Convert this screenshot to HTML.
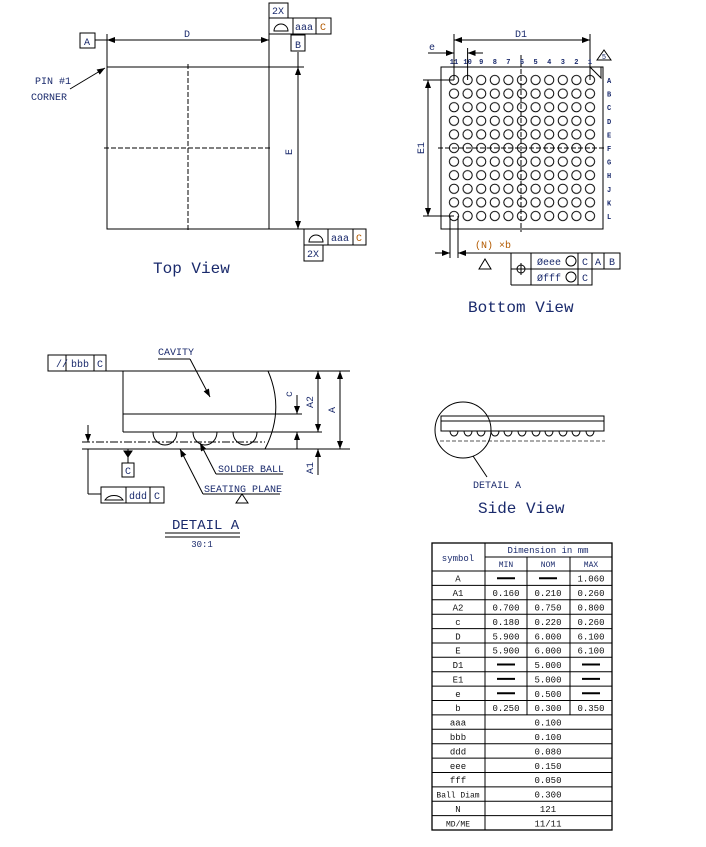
<!DOCTYPE html>
<html><head><meta charset="utf-8"><style>
html,body{margin:0;padding:0;background:#fff;}
svg{display:block;}
text{font-family:"Liberation Mono","DejaVu Sans Mono",monospace;fill:#1a2a6c;}
.o{fill:#b35a00;}
.t text{fill:#111;text-anchor:middle;}
</style></head><body>
<svg width="706" height="847" viewBox="0 0 706 847" xmlns="http://www.w3.org/2000/svg">
<defs>
<marker id="ar" markerWidth="8" markerHeight="6" refX="8" refY="3" orient="auto-start-reverse" markerUnits="userSpaceOnUse"><path d="M0,0 L8,3 L0,6 z" fill="#000"/></marker>
<pattern id="bp" patternUnits="userSpaceOnUse" x="447.2" y="73.2" width="13.6" height="13.6"><circle cx="6.8" cy="6.8" r="4.6" fill="none" stroke="#000" stroke-width="1"/></pattern>
</defs>
<g stroke="#000" fill="none" stroke-width="1">
<!-- TOP VIEW -->
<rect x="107" y="67" width="162" height="162"/>
<line x1="188" y1="64" x2="188" y2="232" stroke-dasharray="5,2"/>
<line x1="104" y1="148" x2="272" y2="148" stroke-dasharray="5,2"/>
<line x1="107" y1="34" x2="107" y2="67"/>
<line x1="269" y1="34" x2="269" y2="67"/>
<line x1="107" y1="40" x2="269" y2="40" marker-start="url(#ar)" marker-end="url(#ar)"/>
<line x1="95" y1="40" x2="107" y2="40"/>
<rect x="80" y="33" width="15" height="15"/>
<line x1="269" y1="67" x2="304" y2="67"/>
<line x1="269" y1="229" x2="304" y2="229"/>
<line x1="298" y1="52" x2="298" y2="67"/>
<line x1="298" y1="67" x2="298" y2="229" marker-start="url(#ar)" marker-end="url(#ar)"/>
<rect x="269" y="3" width="19" height="15"/>
<rect x="269" y="18" width="62" height="16"/>
<line x1="293" y1="18" x2="293" y2="34"/><line x1="316" y1="18" x2="316" y2="34"/>
<path d="M274,31 A7,7 0 0 1 288,31 Z"/>
<rect x="291" y="35" width="14" height="16"/>
<line x1="70" y1="89" x2="105" y2="68" marker-end="url(#ar)"/>
<rect x="304" y="229" width="62" height="16"/>
<line x1="328" y1="229" x2="328" y2="245"/><line x1="353" y1="229" x2="353" y2="245"/>
<path d="M309,242 A7,7 0 0 1 323,242 Z"/>
<rect x="304" y="245" width="19" height="16"/>
<!-- BOTTOM VIEW -->
<rect x="441" y="67" width="162" height="162"/>
<rect x="447.2" y="73.2" width="149.6" height="149.6" fill="url(#bp)" stroke="none"/>
<line x1="521" y1="55" x2="521" y2="232" stroke-dasharray="5,2"/>
<line x1="438" y1="148" x2="606" y2="148" stroke-dasharray="5,2"/>
<line x1="454" y1="34" x2="454" y2="80"/>
<line x1="590" y1="34" x2="590" y2="80"/>
<line x1="454" y1="40" x2="590" y2="40" marker-start="url(#ar)" marker-end="url(#ar)"/>
<line x1="467.6" y1="48" x2="467.6" y2="80"/>
<line x1="428" y1="53" x2="454" y2="53" marker-end="url(#ar)"/>
<line x1="467.6" y1="53" x2="483" y2="53" marker-start="url(#ar)"/>
<line x1="423" y1="80" x2="454" y2="80"/>
<line x1="423" y1="216" x2="454" y2="216"/>
<line x1="428" y1="80" x2="428" y2="216" marker-start="url(#ar)" marker-end="url(#ar)"/>
<path d="M590,67 L601,67 L601,78 Z"/>
<path d="M597,60 L604,50 L611,60 Z"/>
<line x1="450" y1="216" x2="450" y2="258"/>
<line x1="458" y1="216" x2="458" y2="258"/>
<line x1="435" y1="253" x2="450" y2="253" marker-end="url(#ar)"/>
<line x1="458" y1="253" x2="511" y2="253" marker-start="url(#ar)"/>
<path d="M479,269 L485,259 L491,269 Z"/>
<rect x="511" y="253" width="109" height="16"/>
<rect x="531" y="269" width="61" height="16"/>
<line x1="511" y1="269" x2="511" y2="285"/><line x1="511" y1="285" x2="531" y2="285"/>
<line x1="531" y1="253" x2="531" y2="269"/><line x1="578" y1="253" x2="578" y2="285"/>
<line x1="592" y1="253" x2="592" y2="269"/><line x1="604" y1="253" x2="604" y2="269"/>
<circle cx="521" cy="269" r="4"/><line x1="515" y1="269" x2="527" y2="269"/><line x1="521" y1="263" x2="521" y2="275"/>
<circle cx="571" cy="261" r="5"/><circle cx="571" cy="277" r="5"/>
<!-- DETAIL A -->
<rect x="48" y="355" width="58" height="16"/>
<line x1="66" y1="355" x2="66" y2="371"/><line x1="94" y1="355" x2="94" y2="371"/>
<line x1="106" y1="371" x2="350" y2="371"/>
<line x1="123" y1="371" x2="123" y2="432"/>
<line x1="123" y1="414" x2="302" y2="414"/>
<line x1="123" y1="432" x2="322" y2="432"/>
<path d="M268,371 Q285,410 265,449"/>
<line x1="82" y1="442" x2="265" y2="442" stroke-dasharray="8,2,2,2"/>
<line x1="82" y1="449" x2="350" y2="449"/>
<path d="M153,432 A12,13 0 0 0 177,432"/>
<path d="M193,432 A12,13 0 0 0 217,432"/>
<path d="M233,432 A12,13 0 0 0 257,432"/>
<line x1="297" y1="395" x2="297" y2="414" marker-end="url(#ar)"/>
<line x1="297" y1="432" x2="297" y2="449" marker-start="url(#ar)"/>
<line x1="318" y1="371" x2="318" y2="432" marker-start="url(#ar)" marker-end="url(#ar)"/>
<line x1="318" y1="449" x2="318" y2="475" marker-start="url(#ar)"/>
<line x1="340" y1="371" x2="340" y2="449" marker-start="url(#ar)" marker-end="url(#ar)"/>
<line x1="88" y1="425" x2="88" y2="442" marker-end="url(#ar)"/>
<line x1="88" y1="449" x2="88" y2="494"/>
<line x1="88" y1="494" x2="101" y2="494"/>
<rect x="101" y="487" width="63" height="16"/>
<line x1="126" y1="487" x2="126" y2="503"/><line x1="150" y1="487" x2="150" y2="503"/>
<path d="M105,500 A10,8 0 0 1 123,500 Z"/>
<line x1="128" y1="449" x2="128" y2="463"/>
<path d="M124,451 L132,451 L128,457 Z" fill="#000"/>
<rect x="122" y="463" width="12" height="14"/>
<line x1="158" y1="359" x2="190" y2="359"/>
<line x1="190" y1="359" x2="210" y2="397" marker-end="url(#ar)"/>
<line x1="216" y1="474" x2="283" y2="474"/>
<line x1="216" y1="474" x2="200" y2="443" marker-end="url(#ar)"/>
<line x1="203" y1="494" x2="280" y2="494"/>
<line x1="203" y1="494" x2="180" y2="449" marker-end="url(#ar)"/>
<path d="M236,503 L242,494 L248,503 Z"/>
<line x1="165" y1="533" x2="240" y2="533"/>
<line x1="165" y1="537" x2="240" y2="537"/>
<!-- SIDE VIEW -->
<rect x="441" y="416" width="163" height="15"/>
<line x1="441" y1="421" x2="604" y2="421"/>
<line x1="440" y1="441" x2="605" y2="441" stroke-dasharray="4,2" stroke="#555"/>
<path d="M450,431 a4,5 0 0 0 8,0 M464,431 a4,5 0 0 0 8,0 M477,431 a4,5 0 0 0 8,0 M491,431 a4,5 0 0 0 8,0 M504,431 a4,5 0 0 0 8,0 M518,431 a4,5 0 0 0 8,0 M532,431 a4,5 0 0 0 8,0 M545,431 a4,5 0 0 0 8,0 M559,431 a4,5 0 0 0 8,0 M572,431 a4,5 0 0 0 8,0 M586,431 a4,5 0 0 0 8,0"/>
<circle cx="463" cy="430" r="28"/>
<line x1="473" y1="456" x2="487" y2="477"/>
<!-- TABLE -->
<rect x="432" y="543" width="180" height="287" stroke-width="1.3"/>
<line x1="485" y1="543" x2="485" y2="830"/>
<line x1="485" y1="557" x2="612" y2="557"/>
<line x1="527" y1="557" x2="527" y2="714.9"/>
<line x1="570" y1="557" x2="570" y2="714.9"/>
<line x1="432" y1="571" x2="612" y2="571"/>
<line x1="432" y1="585.4" x2="612" y2="585.4"/>
<line x1="432" y1="599.8" x2="612" y2="599.8"/>
<line x1="432" y1="614.2" x2="612" y2="614.2"/>
<line x1="432" y1="628.6" x2="612" y2="628.6"/>
<line x1="432" y1="643" x2="612" y2="643"/>
<line x1="432" y1="657.3" x2="612" y2="657.3"/>
<line x1="432" y1="671.7" x2="612" y2="671.7"/>
<line x1="432" y1="686.1" x2="612" y2="686.1"/>
<line x1="432" y1="700.5" x2="612" y2="700.5"/>
<line x1="432" y1="714.9" x2="612" y2="714.9"/>
<line x1="432" y1="729.3" x2="612" y2="729.3"/>
<line x1="432" y1="743.7" x2="612" y2="743.7"/>
<line x1="432" y1="758.1" x2="612" y2="758.1"/>
<line x1="432" y1="772.5" x2="612" y2="772.5"/>
<line x1="432" y1="786.9" x2="612" y2="786.9"/>
<line x1="432" y1="801.2" x2="612" y2="801.2"/>
<line x1="432" y1="815.6" x2="612" y2="815.6"/>
<g stroke-width="2">
<line x1="497" y1="578.2" x2="515" y2="578.2"/><line x1="539" y1="578.2" x2="557" y2="578.2"/>
<line x1="497" y1="664.5" x2="515" y2="664.5"/><line x1="582" y1="664.5" x2="600" y2="664.5"/>
<line x1="497" y1="678.9" x2="515" y2="678.9"/><line x1="582" y1="678.9" x2="600" y2="678.9"/>
<line x1="497" y1="693.3" x2="515" y2="693.3"/><line x1="582" y1="693.3" x2="600" y2="693.3"/>
</g>
</g>
<!-- text -->
<g font-size="10">
<text x="187" y="37" text-anchor="middle">D</text>
<text x="87" y="45" text-anchor="middle">A</text>
<text x="278" y="14" text-anchor="middle">2X</text>
<text x="304" y="30" text-anchor="middle">aaa</text>
<text x="323" y="30" text-anchor="middle" class="o">C</text>
<text x="298" y="48" text-anchor="middle">B</text>
<text x="35" y="84">PIN #1</text>
<text x="31" y="100">CORNER</text>
<text x="292" y="152" text-anchor="middle" transform="rotate(-90 292 152)">E</text>
<text x="340" y="241" text-anchor="middle">aaa</text>
<text x="359" y="241" text-anchor="middle" class="o">C</text>
<text x="313" y="257" text-anchor="middle">2X</text>
<text x="153" y="273" font-size="16">Top View</text>
<text x="521" y="37" text-anchor="middle">D1</text>
<text x="432" y="50" text-anchor="middle">e</text>
<text x="424" y="148" text-anchor="middle" transform="rotate(-90 424 148)">E1</text>
<text x="475" y="248" class="o">(N) ×b</text>
<text x="549" y="265" text-anchor="middle">Øeee</text>
<text x="549" y="281" text-anchor="middle">Øfff</text>
<text x="585" y="265" text-anchor="middle">C</text><text x="598" y="265" text-anchor="middle">A</text><text x="612" y="265" text-anchor="middle">B</text>
<text x="585" y="281" text-anchor="middle">C</text>
<text x="468" y="312" font-size="16">Bottom View</text>
<text x="80" y="367" text-anchor="middle">bbb</text>
<text x="100" y="367" text-anchor="middle">C</text>
<text x="56" y="367">//</text>
<text x="158" y="355">CAVITY</text>
<text x="292" y="394" transform="rotate(-90 292 394)" text-anchor="middle">c</text>
<text x="313" y="402" transform="rotate(-90 313 402)" text-anchor="middle">A2</text>
<text x="335" y="410" transform="rotate(-90 335 410)" text-anchor="middle">A</text>
<text x="313" y="468" transform="rotate(-90 313 468)" text-anchor="middle">A1</text>
<text x="218" y="472">SOLDER BALL</text>
<text x="204" y="492">SEATING PLANE</text>
<text x="128" y="474" text-anchor="middle">C</text>
<text x="138" y="499" text-anchor="middle">ddd</text>
<text x="157" y="499" text-anchor="middle">C</text>
<text x="172" y="529" font-size="14">DETAIL A</text>
<text x="202" y="547" text-anchor="middle" font-size="9">30:1</text>
<text x="473" y="488">DETAIL A</text>
<text x="478" y="513" font-size="16">Side View</text>
</g>
<g font-size="7" font-weight="bold" text-anchor="middle">
<text x="454" y="64">11</text><text x="467.6" y="64">10</text><text x="481.2" y="64">9</text><text x="494.8" y="64">8</text><text x="508.4" y="64">7</text><text x="522" y="64">6</text><text x="535.6" y="64">5</text><text x="549.2" y="64">4</text><text x="562.8" y="64">3</text><text x="576.4" y="64">2</text><text x="590" y="64">1</text>
<text x="604" y="59" font-weight="normal">5</text>
</g>
<g font-size="7" font-weight="bold" style="fill:#1a6fc0">
<text x="607" y="83" fill="#1a6fc0">A</text><text x="607" y="96.6" fill="#1a6fc0">B</text><text x="607" y="110.2" fill="#1a6fc0">C</text><text x="607" y="123.8" fill="#1a6fc0">D</text><text x="607" y="137.4" fill="#1a6fc0">E</text><text x="607" y="151" fill="#1a6fc0">F</text><text x="607" y="164.6" fill="#1a6fc0">G</text><text x="607" y="178.2" fill="#1a6fc0">H</text><text x="607" y="191.8" fill="#1a6fc0">J</text><text x="607" y="205.4" fill="#1a6fc0">K</text><text x="607" y="219" fill="#1a6fc0">L</text>
</g>
<g font-size="8">
<text x="548" y="553" text-anchor="middle" font-size="9">Dimension in mm</text>
<text x="458" y="561" text-anchor="middle" font-size="9">symbol</text>
<text x="506" y="567" text-anchor="middle">MIN</text>
<text x="548" y="567" text-anchor="middle">NOM</text>
<text x="591" y="567" text-anchor="middle">MAX</text>
</g>
<g class="t" font-size="9">
<text x="458" y="581.7">A</text><text x="591" y="581.7">1.060</text>
<text x="458" y="596.1">A1</text><text x="506" y="596.1">0.160</text><text x="548" y="596.1">0.210</text><text x="591" y="596.1">0.260</text>
<text x="458" y="610.5">A2</text><text x="506" y="610.5">0.700</text><text x="548" y="610.5">0.750</text><text x="591" y="610.5">0.800</text>
<text x="458" y="624.9">c</text><text x="506" y="624.9">0.180</text><text x="548" y="624.9">0.220</text><text x="591" y="624.9">0.260</text>
<text x="458" y="639.3">D</text><text x="506" y="639.3">5.900</text><text x="548" y="639.3">6.000</text><text x="591" y="639.3">6.100</text>
<text x="458" y="653.7">E</text><text x="506" y="653.7">5.900</text><text x="548" y="653.7">6.000</text><text x="591" y="653.7">6.100</text>
<text x="458" y="668">D1</text><text x="548" y="668">5.000</text>
<text x="458" y="682.4">E1</text><text x="548" y="682.4">5.000</text>
<text x="458" y="696.8">e</text><text x="548" y="696.8">0.500</text>
<text x="458" y="711.2">b</text><text x="506" y="711.2">0.250</text><text x="548" y="711.2">0.300</text><text x="591" y="711.2">0.350</text>
<text x="458" y="725.6">aaa</text><text x="548" y="725.6">0.100</text>
<text x="458" y="740">bbb</text><text x="548" y="740">0.100</text>
<text x="458" y="754.4">ddd</text><text x="548" y="754.4">0.080</text>
<text x="458" y="768.8">eee</text><text x="548" y="768.8">0.150</text>
<text x="458" y="783.2">fff</text><text x="548" y="783.2">0.050</text>
<text x="458" y="797.6" font-size="8">Ball Diam</text><text x="548" y="797.6">0.300</text>
<text x="458" y="811.9">N</text><text x="548" y="811.9">121</text>
<text x="458" y="826.3" font-size="8">MD/ME</text><text x="548" y="826.3">11/11</text>
</g>
</svg>
</body></html>
